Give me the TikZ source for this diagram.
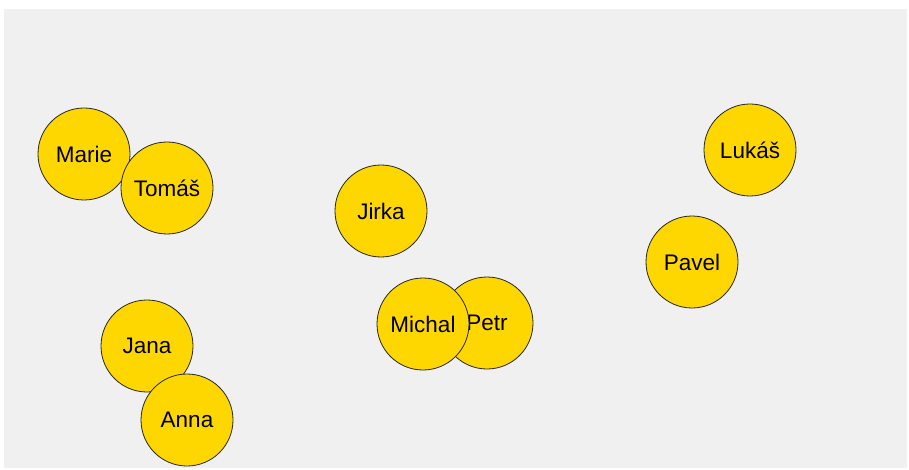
\documentclass[tikz,border=0pt]{standalone}
\usepackage{fontspec}
\setmainfont{Liberation Sans}
\definecolor{bggray}{HTML}{F0F0F0}
\definecolor{gold}{HTML}{FFD700}
\begin{document}
\begin{tikzpicture}[x=1pt,y=-1pt,
  person/.style={circle,draw=black!85,line width=0.8pt,fill=gold,minimum size=92pt,inner sep=0pt,font=\fontsize{22.5}{26}\selectfont}]
\useasboundingbox (0,0) rectangle (909,470);
\fill[bggray] (4,9) rectangle (907,468);
\node[person] (petr) at (487,323) {Petr};
\node[person] (michal) at (423,324) {Michal};
\node[person] (marie) at (84,154) {Marie};
\node[person] (tomas) at (167,188) {Tomáš};
\node[person] (jirka) at (381,211) {Jirka};
\node[person] (jana) at (147,346) {Jana};
\node[person] (anna) at (187,420) {Anna};
\node[person] (lukas) at (750,150) {Lukáš};
\node[person] (pavel) at (692,262) {Pavel};
\end{tikzpicture}
\end{document}
